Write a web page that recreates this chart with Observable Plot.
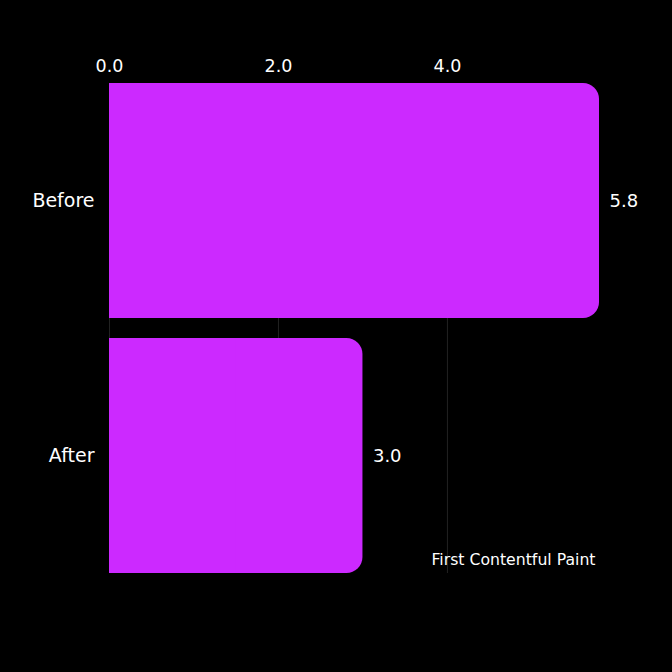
<!DOCTYPE html>
<html>
<head>
<meta charset="utf-8">
<script src="https://cdn.jsdelivr.net/npm/d3@7"></script>
<script src="https://cdn.jsdelivr.net/npm/@observablehq/plot@0.6"></script>
<style>
  html, body { margin: 0; padding: 0; background: #000; }
  #chart { width: 672px; height: 672px; }
</style>
</head>
<body>
<div id="chart"></div>
<script>
const categories = ["Before", "After"];
const values = [5.8, 3.0];
const xTicks = [0, 2, 4];
const metricLabel = "First Contentful Paint";

const data = categories.map((c, i) => ({ phase: c, value: values[i] }));
const barColor = "#cc29ff";
const font = "'DejaVu Sans', sans-serif";

const chart = Plot.plot({
  width: 672,
  height: 672,
  marginTop: 83,
  marginBottom: 99,
  marginLeft: 109,
  marginRight: 73,
  style: { background: "#000", color: "#fff", fontFamily: font },
  x: { domain: [0, 5.8], ticks: xTicks, tickFormat: d3.format(".1f") },
  y: { domain: categories, paddingInner: 0.08, paddingOuter: 0 },
  marks: [
    Plot.gridX(xTicks, { stroke: "#222", strokeOpacity: 1, strokeWidth: 1 }),
    Plot.barX(data, { y: "phase", x: "value", fill: barColor, rx: 16 }),
    Plot.barX(data, { y: "phase", x1: 0, x2: d => d.value / 2, fill: barColor }),
    Plot.text(data, { y: "phase", x: "value", text: d => d3.format(".1f")(d.value), textAnchor: "start", dx: 10, fill: "#fff", fontSize: 18 }),
    Plot.axisX({ anchor: "top", ticks: xTicks, tickFormat: d3.format(".1f"), tickSize: 0, tickPadding: 12, fontSize: 17.5, fill: "#fff", label: null }),
    Plot.axisY({ tickSize: 0, tickPadding: 15, fontSize: 19, fill: "#fff", label: null }),
    Plot.text([metricLabel], { frameAnchor: "bottom-right", dx: -4, dy: -14, lineAnchor: "middle", fill: "#fff", fontSize: 15.7 })
  ]
});
document.getElementById("chart").appendChild(chart);
</script>
</body>
</html>
